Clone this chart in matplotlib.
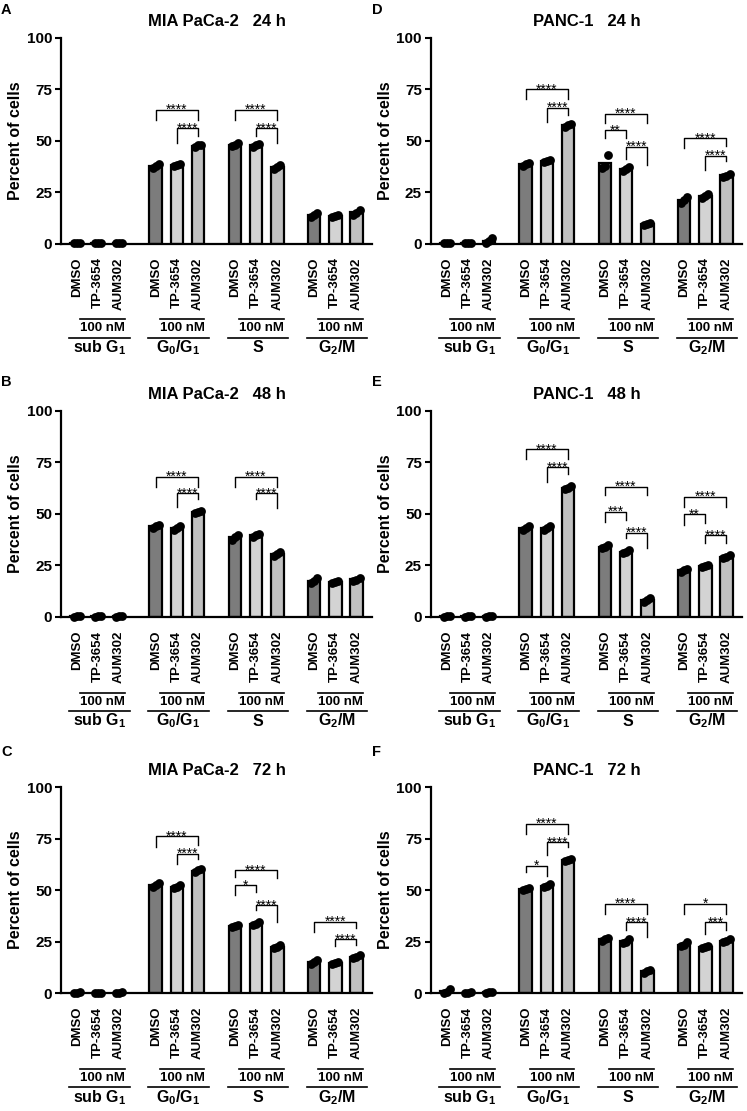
import matplotlib

matplotlib.use("Agg")
import matplotlib.pyplot as plt
import numpy as np
from matplotlib.transforms import blended_transform_factory

plt.rcParams["font.family"] = ["Liberation Sans", "DejaVu Sans"]
plt.rcParams["font.weight"] = "bold"
plt.rcParams["axes.labelweight"] = "bold"
plt.rcParams["mathtext.fontset"] = "custom"
plt.rcParams["mathtext.rm"] = "Liberation Sans:bold"
plt.rcParams["mathtext.it"] = "Liberation Sans:bold"
plt.rcParams["mathtext.bf"] = "Liberation Sans:bold"

treatments = ["DMSO", "TP-3654", "AUM302"]
phases = ["sub G$_1$", "G$_0$/G$_1$", "S", "G$_2$/M"]
bar_colors = ["#7c7c7c", "#d3d3d3", "#c0c0c0"]

# replicate values: [phase][treatment][replicate], phases = subG1, G0/G1, S, G2/M
mia_24h = [
    [[0.1, 0.2, 0.3], [0.1, 0.2, 0.2], [0.1, 0.2, 0.3]],
    [[36.6, 37.4, 38.6], [37.5, 38.0, 38.6], [47.0, 47.6, 48.0]],
    [[47.2, 48.0, 48.9], [47.0, 47.6, 48.3], [36.0, 37.0, 38.0]],
    [[13.0, 13.8, 14.6], [12.8, 13.3, 13.9], [14.0, 15.0, 16.2]],
]
mia_48h = [
    [[0.1, 0.2, 0.3], [0.1, 0.2, 0.2], [0.1, 0.2, 0.3]],
    [[43.2, 44.0, 44.6], [42.2, 43.0, 43.8], [50.3, 50.8, 51.5]],
    [[37.4, 38.5, 39.6], [38.6, 39.5, 40.2], [29.5, 30.5, 31.6]],
    [[16.6, 17.5, 18.6], [16.4, 17.0, 17.5], [17.4, 18.0, 18.9]],
]
mia_72h = [
    [[0.1, 0.2, 0.3], [0.1, 0.2, 0.2], [0.1, 0.2, 0.3]],
    [[51.6, 52.5, 53.4], [50.9, 51.5, 52.3], [58.6, 59.5, 60.2]],
    [[32.0, 32.5, 33.0], [32.9, 33.6, 34.4], [21.8, 22.5, 23.3]],
    [[14.0, 15.0, 16.0], [14.0, 14.5, 15.1], [17.0, 17.6, 18.5]],
]
panc_24h = [
    [[0.1, 0.2, 0.3], [0.1, 0.2, 0.3], [0.4, 1.2, 2.8]],
    [[37.8, 38.5, 39.3], [39.4, 40.0, 40.7], [56.8, 57.4, 58.0]],
    [[36.8, 37.8, 42.8], [35.0, 36.0, 37.0], [8.9, 9.5, 10.2]],
    [[19.8, 21.2, 22.5], [22.0, 23.0, 23.9], [32.3, 33.0, 33.8]],
]
panc_48h = [
    [[0.1, 0.2, 0.3], [0.1, 0.2, 0.2], [0.1, 0.2, 0.3]],
    [[42.2, 43.0, 43.8], [42.2, 43.0, 43.9], [61.8, 62.5, 63.3]],
    [[33.3, 34.0, 34.7], [30.9, 31.6, 32.3], [7.3, 8.0, 8.9]],
    [[21.8, 22.5, 23.2], [24.0, 24.6, 25.2], [28.5, 29.2, 29.8]],
]
panc_72h = [
    [[0.2, 0.6, 2.0], [0.1, 0.2, 0.3], [0.2, 0.4, 0.6]],
    [[50.0, 50.5, 51.1], [51.4, 52.1, 52.8], [64.0, 64.5, 65.0]],
    [[25.4, 26.0, 26.6], [24.3, 25.0, 26.0], [9.8, 10.5, 11.3]],
    [[22.6, 23.4, 24.6], [22.0, 22.5, 23.0], [24.6, 25.4, 26.2]],
]

# significance brackets: (phase, from, to, height, left leg drop, right leg drop, stars)
mia_24h_sig = [
    (1, 0, 2, 65.0, 5.0, 5.0, "****"), (1, 1, 2, 56.0, 7.0, 4.0, "****"),
    (2, 0, 2, 65.0, 5.0, 5.0, "****"), (2, 1, 2, 56.0, 4.0, 7.0, "****"),
]
mia_48h_sig = [
    (1, 0, 2, 68.0, 5.0, 5.0, "****"), (1, 1, 2, 60.0, 6.5, 3.0, "****"),
    (2, 0, 2, 68.0, 5.0, 5.0, "****"), (2, 1, 2, 60.0, 3.0, 7.0, "****"),
]
mia_72h_sig = [
    (1, 0, 2, 76.0, 5.0, 4.0, "****"), (1, 1, 2, 67.7, 5.0, 2.5, "****"),
    (2, 0, 2, 59.7, 3.2, 4.0, "****"), (2, 0, 1, 52.4, 4.8, 3.2, "*"),
    (2, 1, 2, 42.7, 2.4, 8.0, "****"),
    (3, 0, 2, 34.7, 5.0, 3.0, "****"), (3, 1, 2, 26.1, 3.5, 2.7, "****"),
]
panc_24h_sig = [
    (1, 0, 2, 75.0, 5.0, 5.0, "****"), (1, 1, 2, 66.0, 7.0, 3.5, "****"),
    (2, 0, 2, 63.0, 4.5, 4.5, "****"), (2, 0, 1, 55.0, 4.0, 4.0, "**"),
    (2, 1, 2, 47.0, 6.0, 9.0, "****"),
    (3, 0, 2, 51.0, 4.5, 3.7, "****"), (3, 1, 2, 42.7, 7.2, 2.8, "****"),
]
panc_48h_sig = [
    (1, 0, 2, 81.4, 5.0, 5.0, "****"), (1, 1, 2, 72.6, 7.0, 3.2, "****"),
    (2, 0, 2, 63.2, 4.0, 4.0, "****"), (2, 0, 1, 51.0, 5.0, 4.0, "***"),
    (2, 1, 2, 40.8, 2.8, 7.6, "****"),
    (3, 0, 2, 58.3, 5.0, 5.0, "****"), (3, 0, 1, 49.9, 5.3, 4.5, "**"),
    (3, 1, 2, 39.7, 4.0, 4.0, "****"),
]
panc_72h_sig = [
    (1, 0, 2, 82.2, 5.0, 5.0, "****"), (1, 1, 2, 73.3, 6.5, 2.4, "****"),
    (1, 0, 1, 61.9, 3.2, 4.9, "*"),
    (2, 0, 2, 43.3, 5.0, 5.0, "****"), (2, 1, 2, 34.4, 4.0, 7.3, "****"),
    (3, 0, 2, 43.3, 5.0, 5.0, "*"), (3, 1, 2, 34.4, 5.7, 4.0, "***"),
]

GROUP_STEP = 3.74
DOT_OFFSETS = np.array([-0.15, 0.0, 0.15])
COL_LEFT = [0.0817, 0.577]
ROW_BOTTOM = [0.7808, 0.4449, 0.1062]
AX_W, AX_H = 0.4163, 0.1854


def draw_panel(ax, title, reps, brackets):
    reps = np.asarray(reps, dtype=float)
    means = reps.mean(axis=2)
    positions = []
    for g in range(len(phases)):
        for t in range(len(treatments)):
            x = g * GROUP_STEP + t
            positions.append(x)
            ax.bar(x, means[g, t], width=0.6, color=bar_colors[t],
                   edgecolor="black", linewidth=1.6, zorder=2)
            ax.scatter(x + DOT_OFFSETS, reps[g, t], s=40, color="black",
                       zorder=3, clip_on=False, linewidths=0)

    for g, i, j, y, dl, dr, stars in brackets:
        x1, x2 = g * GROUP_STEP + i, g * GROUP_STEP + j
        ax.plot([x1, x1, x2, x2], [y - dl, y, y, y - dr], color="black", lw=1.0, zorder=4)
        ax.annotate(stars, ((x1 + x2) / 2, y), xytext=(0, -3.2), textcoords="offset points",
                    ha="center", va="baseline", fontsize=10, fontweight="normal")

    ax.set_xlim(-0.74, 13.96)
    ax.set_ylim(0, 100)
    ax.set_yticks([0, 25, 50, 75, 100])
    ax.set_yticklabels(["0", "25", "50", "75", "100"], fontweight="bold")
    ax.tick_params(axis="y", length=4.5, width=1.5, labelsize=11, pad=2)
    ax.set_xticks(positions)
    ax.set_xticklabels(treatments * len(phases), rotation=90, fontsize=9.5, fontweight="bold")
    ax.tick_params(axis="x", which="major", length=0, pad=10)
    ax.set_xticks([g * GROUP_STEP + 1 for g in range(len(phases))], minor=True)
    ax.tick_params(axis="x", which="minor", length=6.5, width=1.5)
    for side in ("top", "right"):
        ax.spines[side].set_visible(False)
    for side in ("left", "bottom"):
        ax.spines[side].set_linewidth(1.6)
    ax.set_ylabel("Percent of cells", fontsize=11.5, fontweight="bold")
    ax.yaxis.set_label_coords(-0.123, 0.5)
    ax.text(0.5, 1.08, title, transform=ax.transAxes, ha="center", va="center",
            fontsize=12, fontweight="bold")

    trans = blended_transform_factory(ax.transData, ax.transAxes)
    for g, phase in enumerate(phases):
        x0 = g * GROUP_STEP
        ax.plot([x0 + 0.18, x0 + 2.3], [-0.368, -0.368], transform=trans,
                clip_on=False, color="black", lw=1.2)
        ax.text(x0 + 1.24, -0.412, "100 nM", transform=trans, ha="center", va="center",
                fontsize=9.5, fontweight="bold")
        ax.plot([x0 - 0.35, x0 + 2.5], [-0.458, -0.458], transform=trans,
                clip_on=False, color="black", lw=1.2)
        ax.text(x0 + 1.07, -0.507, phase, transform=trans, ha="center", va="center",
                fontsize=11.5, fontweight="bold")


panels = [
    ("A", 0, 0, "MIA PaCa-2   24 h", mia_24h, mia_24h_sig),
    ("B", 0, 1, "MIA PaCa-2   48 h", mia_48h, mia_48h_sig),
    ("C", 0, 2, "MIA PaCa-2   72 h", mia_72h, mia_72h_sig),
    ("D", 1, 0, "PANC-1   24 h", panc_24h, panc_24h_sig),
    ("E", 1, 1, "PANC-1   48 h", panc_48h, panc_48h_sig),
    ("F", 1, 2, "PANC-1   72 h", panc_72h, panc_72h_sig),
]
letter_x = [0.0085, 0.5045]
letter_y = [0.9907, 0.656, 0.3231]

fig = plt.figure(figsize=(7.47, 11.11), dpi=100)
for letter, col, row, title, reps, sig in panels:
    ax = fig.add_axes([COL_LEFT[col], ROW_BOTTOM[row], AX_W, AX_H])
    draw_panel(ax, title, reps, sig)
    fig.text(letter_x[col], letter_y[row], letter, ha="center", va="center",
             fontsize=10.5, fontweight="bold")

fig.savefig("out.png", dpi=100)
